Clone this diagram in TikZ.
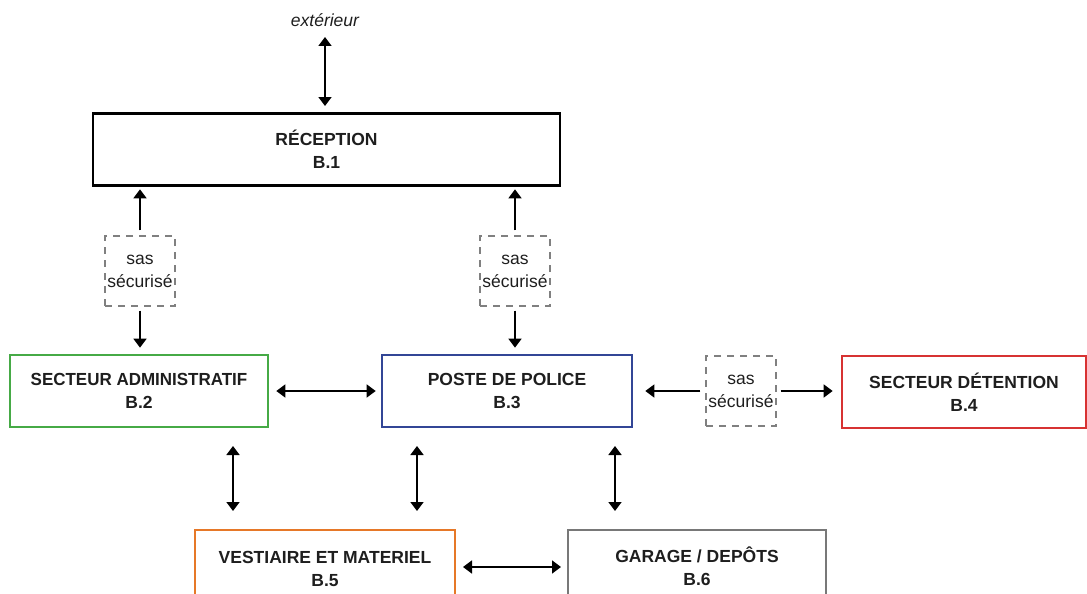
\documentclass[tikz,border=0pt]{standalone}
\usepackage{fontspec}
\setmainfont{Liberation Sans}
\usetikzlibrary{arrows.meta}
\definecolor{admgreen}{RGB}{70,170,70}
\definecolor{polblue}{RGB}{50,70,150}
\definecolor{detred}{RGB}{215,50,50}
\definecolor{vestorange}{RGB}{230,120,40}
\definecolor{garagegray}{RGB}{120,120,120}
\definecolor{ink}{RGB}{30,30,30}
\begin{document}
\begin{tikzpicture}[x=1pt,y=-1pt,
  room/.style={draw,line width=2.6pt,minimum height=72pt,align=center,text=ink,
    font=\bfseries\fontsize{17.5}{23}\selectfont,inner sep=0pt},
  sas/.style={draw=gray,dashed,dash pattern=on 7pt off 6pt,line width=1.3pt,
    minimum width=70pt,minimum height=70pt,align=center,text=ink,
    font=\fontsize{17.5}{23}\selectfont,inner sep=0pt},
  link/.style={line width=1.6pt,{Triangle[width=13pt,length=9pt]}-{Triangle[width=13pt,length=9pt]}},
  oneway/.style={line width=1.6pt,-{Triangle[width=13pt,length=9pt]}}
]
\useasboundingbox (0,0) rectangle (1087,594);
\clip (0,0) rectangle (1087,594);

% rooms
\node[room,minimum width=467pt] (rec) at (326.5,149.5) {RÉCEPTION\\B.1};
\node[room,draw=admgreen,minimum width=258pt] (adm) at (139,391) {\scalebox{0.97}[1]{SECTEUR ADMINISTRATIF}\\B.2};
\node[room,draw=polblue,minimum width=250pt] (pol) at (507,391) {POSTE DE POLICE\\B.3};
\node[room,draw=detred,minimum width=244pt] (det) at (964,392) {SECTEUR DÉTENTION\\B.4};
\node[room,draw=vestorange,minimum width=260pt,minimum height=100pt,text depth=22pt] (ves) at (325,580) {VESTIAIRE ET MATERIEL\\B.5};
\node[room,draw=garagegray,minimum width=258pt,minimum height=100pt,text depth=28pt] (gar) at (697,580) {GARAGE / DEPÔTS\\B.6};

% secured airlocks
\node[sas] (s1) at (140,271) {sas\\sécurisé};
\node[sas] (s2) at (515,271) {sas\\sécurisé};
\node[sas] (s3) at (741,391) {sas\\sécurisé};

% outside
\node[font=\itshape\fontsize{17.5}{20}\selectfont,text=ink] (ext) at (325,20) {extérieur};
\coordinate (extA) at (325,37);
\coordinate (extB) at (325,106);
\draw[link] (extA) -- (extB);

% airlock connections
\draw[oneway] (s1.north) ++(0,-5) -- ++(0,-41);
\draw[oneway] (s1.south) ++(0,4) -- ++(0,37);
\draw[oneway] (s2.north) ++(0,-5) -- ++(0,-41);
\draw[oneway] (s2.south) ++(0,4) -- ++(0,37);
\draw[oneway] (s3.west) ++(-5,0) -- ++(-55,0);
\draw[oneway] (s3.east) ++(4,0) -- ++(52,0);

% direct links
\draw[link] ([xshift=7pt]adm.east) -- ([xshift=-5pt]pol.west);
\draw[link] (233,446) -- (233,511);
\draw[link] (417,446) -- (417,511);
\draw[link] (615,446) -- (615,511);
\draw[link] (463,567) -- (561,567);
\end{tikzpicture}
\end{document}
